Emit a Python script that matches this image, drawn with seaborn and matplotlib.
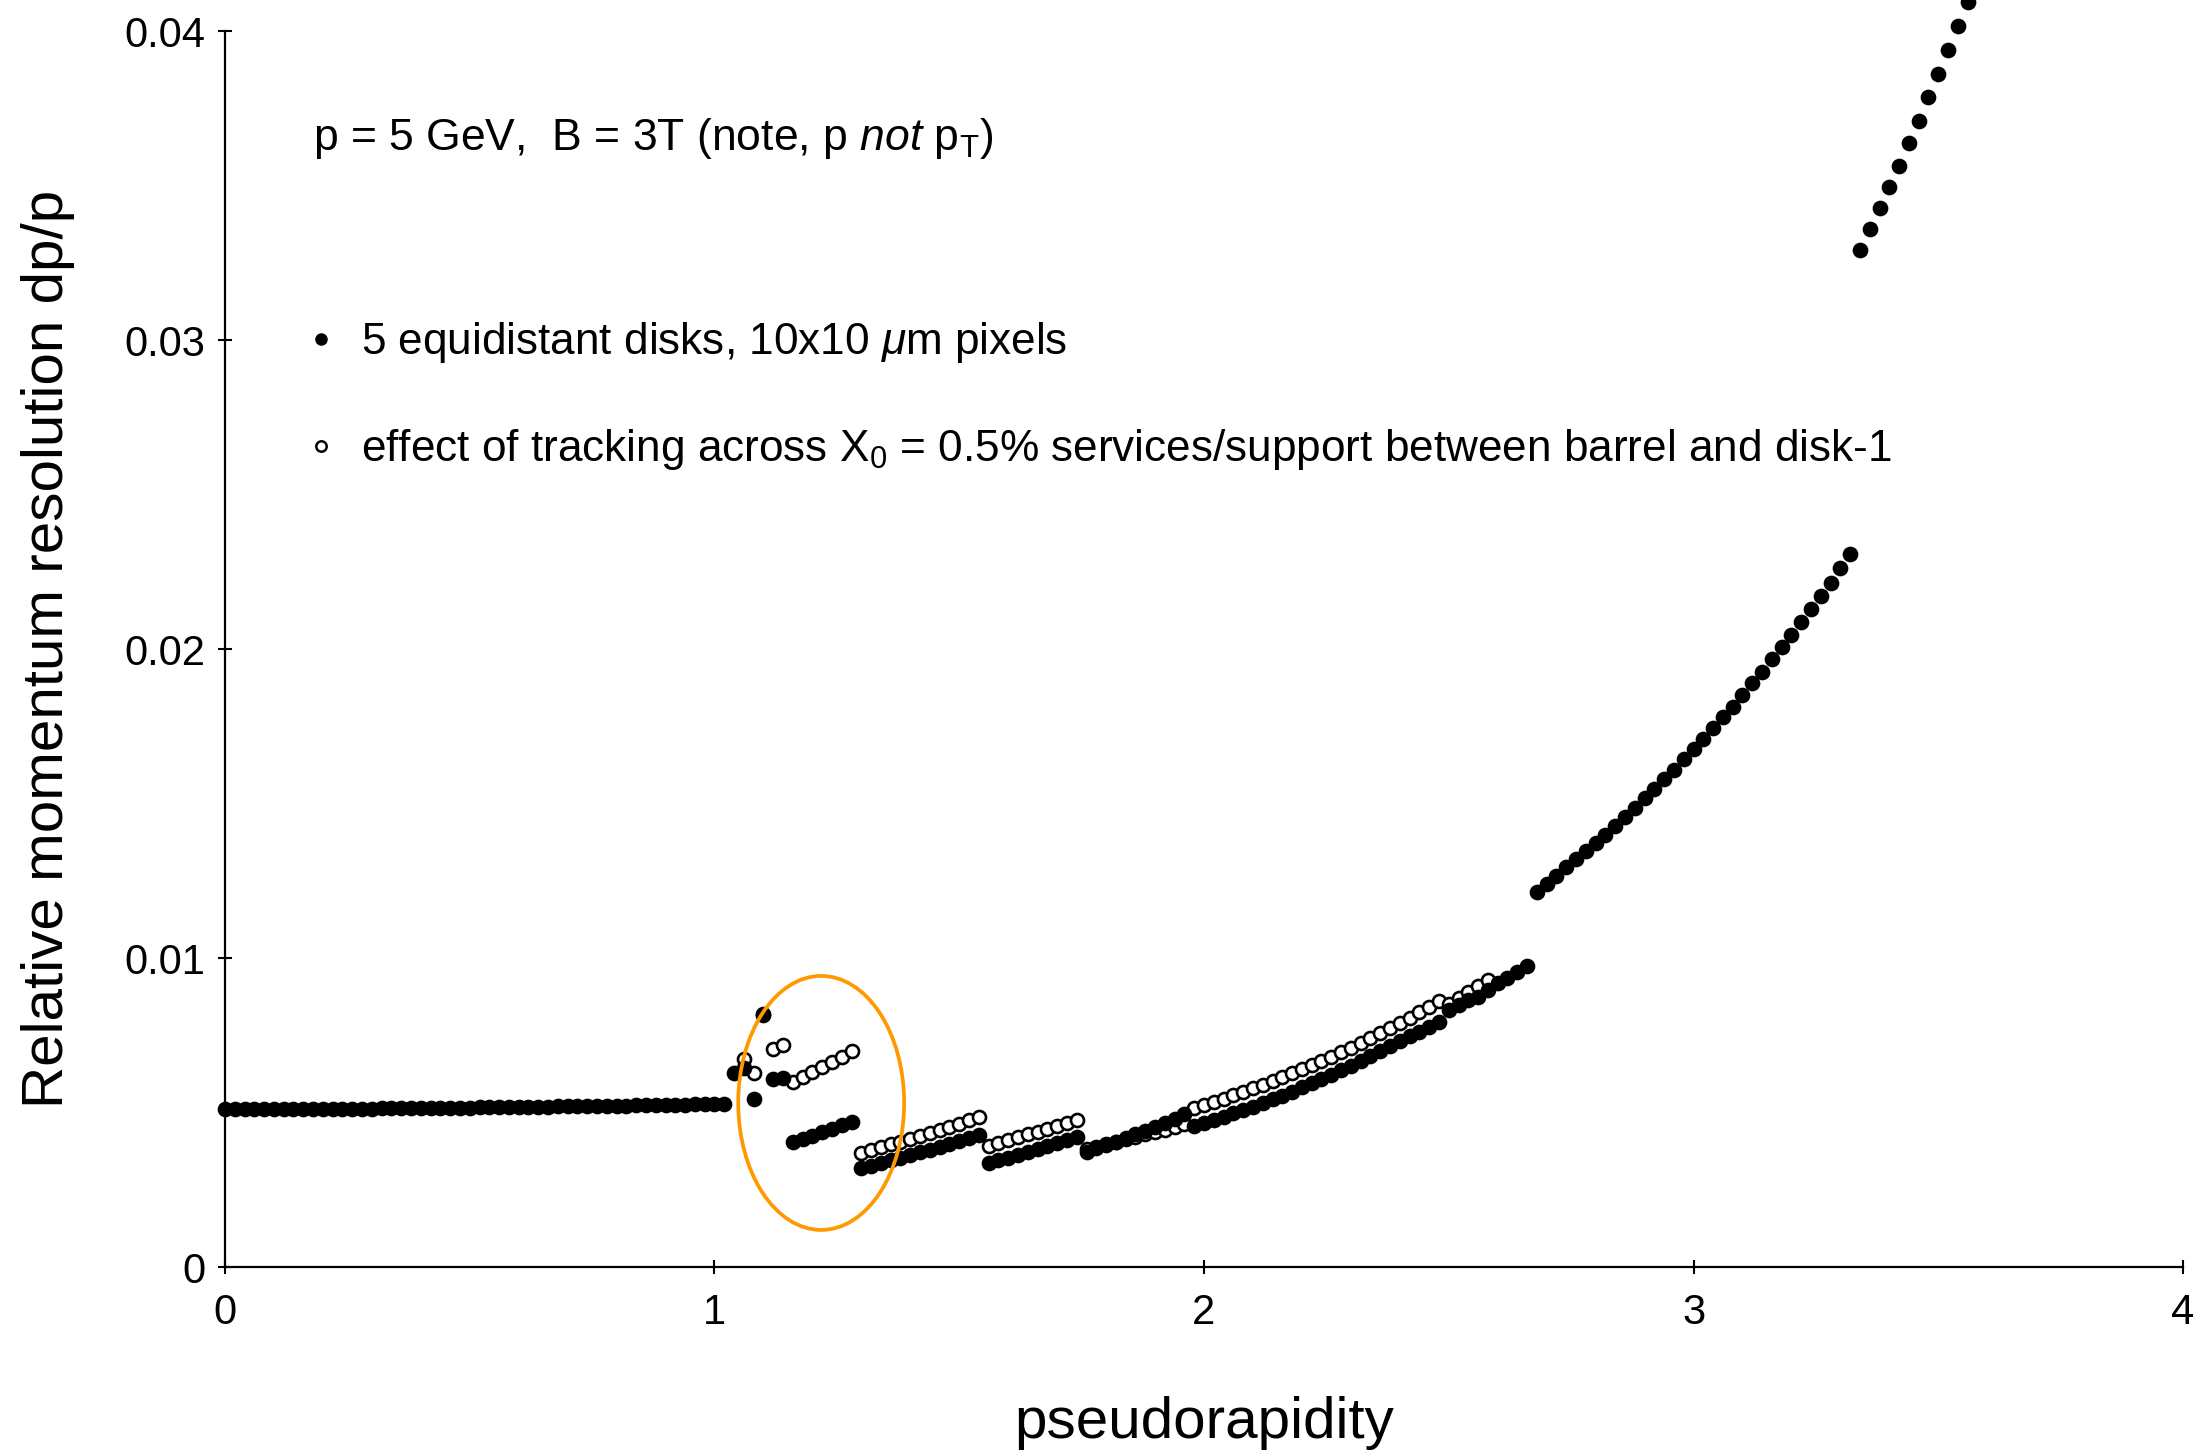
import numpy as np
import pandas as pd
import matplotlib
matplotlib.use("Agg")
import matplotlib.pyplot as plt
import seaborn as sns
from matplotlib.patches import Ellipse
from matplotlib.lines import Line2D

# ---------------- data ----------------
ETA_STEP = 0.02
# filled: 5 equidistant disks, eta = 0.00 ... 3.56
flat_part = [0.00510, 0.00510, 0.00510, 0.00510, 0.00511, 0.00511, 0.00511, 0.00511, 0.00512, 0.00512,
             0.00512, 0.00512, 0.00513, 0.00513, 0.00513, 0.00513, 0.00514, 0.00514, 0.00514, 0.00514,
             0.00515, 0.00515, 0.00515, 0.00516, 0.00516, 0.00516, 0.00517, 0.00517, 0.00517, 0.00518,
             0.00518, 0.00518, 0.00519, 0.00519, 0.00520, 0.00520, 0.00520, 0.00521, 0.00521, 0.00522,
             0.00522, 0.00522, 0.00523, 0.00523, 0.00524, 0.00524, 0.00525, 0.00525, 0.00526, 0.00526,
             0.00527, 0.00527]                                   # 0.00 - 1.02
transition_part = [0.00627, 0.00645, 0.00543, 0.00816, 0.00607, 0.00611]   # 1.04 - 1.14
disk1_part = [0.00403, 0.00414, 0.00425, 0.00436, 0.00447, 0.00458, 0.00470]  # 1.16 - 1.28
disk2_part = [0.00319, 0.00328, 0.00336, 0.00345, 0.00354, 0.00362, 0.00371, 0.00380,
              0.00389, 0.00398, 0.00408, 0.00417, 0.00427]        # 1.30 - 1.54
disk3_part = [0.00336, 0.00345, 0.00354, 0.00363, 0.00372, 0.00382, 0.00391, 0.00401,
              0.00411, 0.00422]                                   # 1.56 - 1.74
disk4_part = [0.00373, 0.00384, 0.00395, 0.00406, 0.00417, 0.00429, 0.00441, 0.00453,
              0.00466, 0.00480, 0.00494]                          # 1.76 - 1.96
disk5_part = [0.00455, 0.00465, 0.00475, 0.00486, 0.00497, 0.00508, 0.00519, 0.00531,
              0.00543, 0.00555, 0.00568, 0.00581, 0.00594, 0.00608, 0.00622, 0.00636,
              0.00651, 0.00667, 0.00683, 0.00699, 0.00715, 0.00731, 0.00747, 0.00762,
              0.00778, 0.00794]                                   # 1.98 - 2.48
four_hit_part = [0.00832, 0.00848, 0.00864, 0.00875, 0.00896, 0.00918, 0.00934, 0.00956, 0.00974]  # 2.50 - 2.66
three_hit_part = [0.01215, 0.01241, 0.01265, 0.01296, 0.01320, 0.01345, 0.01371, 0.01398,
                  0.01428, 0.01458, 0.01485, 0.01518, 0.01547, 0.01579, 0.01609, 0.01644,
                  0.01676, 0.01709, 0.01744, 0.01780, 0.01814, 0.01852, 0.01890, 0.01927,
                  0.01967, 0.02006, 0.02046, 0.02086, 0.02129, 0.02172, 0.02215, 0.02262,
                  0.02307]                                        # 2.68 - 3.32
two_hit_part = [0.03291, 0.03358, 0.03426, 0.03494, 0.03564, 0.03637, 0.03710, 0.03785,
                0.03861, 0.03939, 0.04017, 0.04095]               # 3.34 - 3.56

# open: with X0 = 0.5 % services between barrel and disk-1, eta = 1.06 ... 2.58
open_transition = [0.00672, 0.00627, 0.00820, 0.00705, 0.00718]   # 1.06 - 1.14
open_disk1 = [0.00600, 0.00616, 0.00632, 0.00648, 0.00664, 0.00681, 0.00699]  # 1.16 - 1.28
open_disk2 = [0.00370, 0.00379, 0.00388, 0.00397, 0.00406, 0.00415, 0.00424, 0.00434,
              0.00444, 0.00454, 0.00464, 0.00475, 0.00486]        # 1.30 - 1.54
open_disk3 = [0.00393, 0.00402, 0.00411, 0.00420, 0.00429, 0.00438, 0.00447, 0.00457,
              0.00466, 0.00476]                                   # 1.56 - 1.74
open_disk4 = [0.00383, 0.00390, 0.00397, 0.00405, 0.00413, 0.00421, 0.00429, 0.00437,
              0.00445, 0.00454, 0.00463]                          # 1.76 - 1.96
open_disk5 = [0.00514, 0.00524, 0.00534, 0.00545, 0.00556, 0.00567, 0.00578, 0.00590,
              0.00602, 0.00614, 0.00627, 0.00640, 0.00653, 0.00667, 0.00681, 0.00695,
              0.00710, 0.00725, 0.00741, 0.00757, 0.00773, 0.00789, 0.00806, 0.00824,
              0.00842, 0.00860]                                   # 1.98 - 2.48
open_four_hit = [0.00852, 0.00872, 0.00890, 0.00908, 0.00928]    # 2.50 - 2.58

filled_values = (flat_part + transition_part + disk1_part + disk2_part + disk3_part +
                 disk4_part + disk5_part + four_hit_part + three_hit_part + two_hit_part)
open_values = (open_transition + open_disk1 + open_disk2 + open_disk3 + open_disk4 +
               open_disk5 + open_four_hit)

eta_filled = np.round(0.0 + ETA_STEP * np.arange(len(filled_values)), 2)
eta_open = np.round(1.06 + ETA_STEP * np.arange(len(open_values)), 2)

x_ticks = [0, 1, 2, 3, 4]
y_ticks = [0, 0.01, 0.02, 0.03, 0.04]
y_tick_labels = ["0", "0.01", "0.02", "0.03", "0.04"]

label_filled = "5 equidistant disks, 10x10 $\\mu$m pixels"
label_open = "effect of tracking across X$_0$ = 0.5% services/support between barrel and disk-1"
note_text = "p = 5 GeV,  B = 3T (note, p $\\mathit{not}$ p$_\\mathrm{T}$)"
x_label = "pseudorapidity"
y_label = "Relative momentum resolution dp/p"

# highlight ellipse (data units)
ellipse_center = (1.218, 0.00531)
ellipse_width = 0.339
ellipse_height = 0.00822

# ---------------- style ----------------
sns.set_style("ticks")
plt.rcParams["font.family"] = ["Liberation Sans", "DejaVu Sans"]
plt.rcParams["mathtext.fontset"] = "custom"
plt.rcParams["mathtext.rm"] = "Liberation Sans"
plt.rcParams["mathtext.it"] = "Liberation Sans:italic"
plt.rcParams["mathtext.bf"] = "Liberation Sans:bold"
plt.rcParams["text.color"] = "black"
plt.rcParams["axes.labelcolor"] = "black"
plt.rcParams["xtick.color"] = "black"
plt.rcParams["ytick.color"] = "black"

fig = plt.figure(figsize=(22.12, 14.51), dpi=100)
ax = fig.add_axes([0.1017, 0.1268, 0.8852, 0.8518])

df_filled = pd.DataFrame({"eta": eta_filled, "dpp": filled_values})
df_open = pd.DataFrame({"eta": eta_open, "dpp": open_values})

sns.scatterplot(data=df_open, x="eta", y="dpp", ax=ax, s=88, color="white",
                edgecolor="black", linewidth=1.9, zorder=3, clip_on=False, legend=False)
sns.scatterplot(data=df_filled, x="eta", y="dpp", ax=ax, s=128, color="black",
                edgecolor="black", linewidth=0, zorder=4, clip_on=False, legend=False)

ax.add_patch(Ellipse(ellipse_center, ellipse_width, ellipse_height, fill=False,
                     edgecolor="#FF9900", linewidth=2.7, zorder=5))

ax.set_xlim(0, 4)
ax.set_ylim(0, 0.04)
ax.set_xticks(x_ticks)
ax.set_xticklabels([str(t) for t in x_ticks])
ax.set_yticks(y_ticks)
ax.set_yticklabels(y_tick_labels)

sns.despine(ax=ax)
for side in ("left", "bottom"):
    ax.spines[side].set_linewidth(1.6)
    ax.spines[side].set_color("black")
ax.tick_params(axis="both", direction="inout", length=10, width=1.5, colors="black",
               labelsize=30)
ax.tick_params(axis="x", pad=14)
ax.tick_params(axis="y", pad=9)

ax.set_xlabel(x_label, fontsize=42, labelpad=45, color="black")
ax.set_ylabel(y_label, fontsize=42, labelpad=36, color="black")

ax.text(0.0449, 0.913, note_text, transform=ax.transAxes, fontsize=32,
        ha="left", va="center", color="black")

handles = [
    Line2D([], [], marker="o", linestyle="none", markersize=8,
           markerfacecolor="black", markeredgecolor="black"),
    Line2D([], [], marker="o", linestyle="none", markersize=7.5,
           markerfacecolor="white", markeredgecolor="black", markeredgewidth=1.8),
]
leg = ax.legend(handles, [label_filled, label_open], loc="upper left",
                bbox_to_anchor=(0.040, 0.766), frameon=False, fontsize=31.8,
                handlelength=0.8, handletextpad=0.5, labelspacing=1.4, borderpad=0,
                borderaxespad=0)
for t in leg.get_texts():
    t.set_color("black")

fig.savefig("out.png", dpi=100)
